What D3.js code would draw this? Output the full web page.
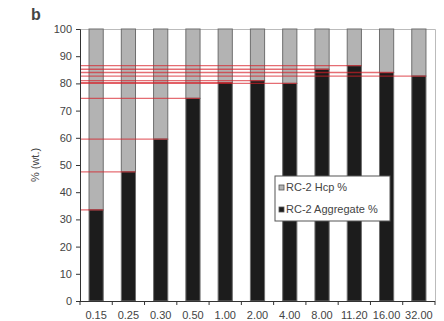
<!DOCTYPE html>
<html>
<head>
    <script src="https://d3js.org/d3.v7.min.js"></script>
    <style>
        body { margin: 0; background: #fff; }
        text { font-family: "Liberation Sans", Arial, sans-serif; fill: #444; }
    </style>
</head>
<body>
    <svg width="444" height="321"></svg>
    <script>
        var sizes = ['0.15', '0.25', '0.30', '0.50', '1.00', '2.00', '4.00', '8.00', '11.20', '16.00', '32.00']
        var aggregate = [33.5, 47.5, 59.5, 74.5, 80.3, 81, 80, 85.2, 86.5, 84, 82.7]
        var yTicks = [0, 10, 20, 30, 40, 50, 60, 70, 80, 90, 100]
        var legendLabels = ['RC-2 Hcp %', 'RC-2 Aggregate %']

        var svg = d3.select('svg')
        var plotLeft = 80, plotRight = 435, plotTop = 29, plotBottom = 301

        var x = d3.scaleBand()
            .domain(sizes)
            .range([plotLeft, plotRight])
            .paddingInner(0.56)
            .paddingOuter(0.28)

        var y = d3.scaleLinear()
            .domain([0, 100])
            .range([plotBottom, plotTop])

        // frame top and right
        svg.append('path')
            .attr('d', 'M' + plotLeft + ',' + (plotTop + 0.5) + 'H' + (plotRight + 0.5) + 'V' + plotBottom)
            .attr('fill', 'none')
            .attr('stroke', '#bbb')

        var data = sizes.map(function(s, i) {
            return { size: s, agg: aggregate[i] }
        })

        // hcp part (rest up to 100)
        svg.selectAll('rect.hcp')
            .data(data)
            .enter()
            .append('rect')
            .classed('hcp', true)
            .attr('x', function(d) { return x(d.size) })
            .attr('width', x.bandwidth())
            .attr('y', y(100))
            .attr('height', function(d) { return y(d.agg) - y(100) })
            .attr('fill', '#b3b3b3')
            .attr('stroke', '#6e6e6e')
            .attr('stroke-width', 1)

        svg.selectAll('rect.agg')
            .data(data)
            .enter()
            .append('rect')
            .classed('agg', true)
            .attr('x', function(d) { return x(d.size) })
            .attr('width', x.bandwidth())
            .attr('y', function(d) { return y(d.agg) })
            .attr('height', function(d) { return y(0) - y(d.agg) })
            .attr('fill', '#1c1c1c')
            .attr('stroke', '#6e6e6e')
            .attr('stroke-width', 1)

        // red reference lines at each bar top
        svg.selectAll('line.ref')
            .data(data)
            .enter()
            .append('line')
            .classed('ref', true)
            .attr('x1', plotLeft)
            .attr('x2', function(d) { return x(d.size) + x.bandwidth() })
            .attr('y1', function(d) { return y(d.agg) })
            .attr('y2', function(d) { return y(d.agg) })
            .attr('stroke', 'rgba(215,30,40,0.65)')
            .attr('stroke-width', 1.3)

        // y axis
        var yAxis = d3.axisLeft(y).tickValues(yTicks).tickSize(4).tickPadding(4)
        var gy = svg.append('g')
            .attr('transform', 'translate(' + plotLeft + ',0)')
            .call(yAxis)
        gy.select('.domain').attr('stroke', '#333')
        gy.selectAll('.tick line').attr('stroke', '#333')
        gy.selectAll('.tick text')
            .style('font-size', '11px')
            .style('font-family', '"Liberation Sans", Arial, sans-serif')
            .attr('fill', '#555')

        // x axis: line, ticks at band boundaries, labels centred
        svg.append('line')
            .attr('x1', plotLeft).attr('x2', plotRight)
            .attr('y1', plotBottom + 0.5).attr('y2', plotBottom + 0.5)
            .attr('stroke', '#333')

        var bounds = d3.range(sizes.length + 1).map(function(i) { return plotLeft + i * x.step() })
        svg.selectAll('line.xtick')
            .data(bounds)
            .enter()
            .append('line')
            .classed('xtick', true)
            .attr('x1', function(d) { return d }).attr('x2', function(d) { return d })
            .attr('y1', plotBottom).attr('y2', plotBottom + 4)
            .attr('stroke', '#333')

        svg.selectAll('text.xlab')
            .data(sizes)
            .enter()
            .append('text')
            .classed('xlab', true)
            .attr('x', function(d) { return x(d) + x.bandwidth() / 2 })
            .attr('y', plotBottom + 18)
            .attr('text-anchor', 'middle')
            .style('font-size', '11px')
            .attr('fill', '#555')
            .text(function(d) { return d })

        // y label
        svg.append('text')
            .attr('transform', 'translate(39,165) rotate(-90)')
            .attr('text-anchor', 'middle')
            .style('font-size', '11px')
            .text('% (wt.)')

        // panel letter
        svg.append('text')
            .attr('x', 31)
            .attr('y', 20)
            .style('font-size', '16px')
            .style('font-weight', 'bold')
            .attr('fill', '#222')
            .text('b')

        // legend
        var lg = svg.append('g').attr('transform', 'translate(275,176)')
        lg.append('rect')
            .attr('width', 115).attr('height', 45)
            .attr('fill', '#fff').attr('stroke', '#555')
        var swatch = ['#b3b3b3', '#1c1c1c']
        legendLabels.forEach(function(l, i) {
            lg.append('rect')
                .attr('x', 4).attr('y', 9 + i * 22)
                .attr('width', 5).attr('height', 5)
                .attr('fill', swatch[i]).attr('stroke', '#555').attr('stroke-width', 0.8)
            lg.append('text')
                .attr('x', 11).attr('y', 15 + i * 22)
                .style('font-size', '11px')
                .attr('fill', '#555')
                .text(l)
        })
    </script>
</body>
</html>
